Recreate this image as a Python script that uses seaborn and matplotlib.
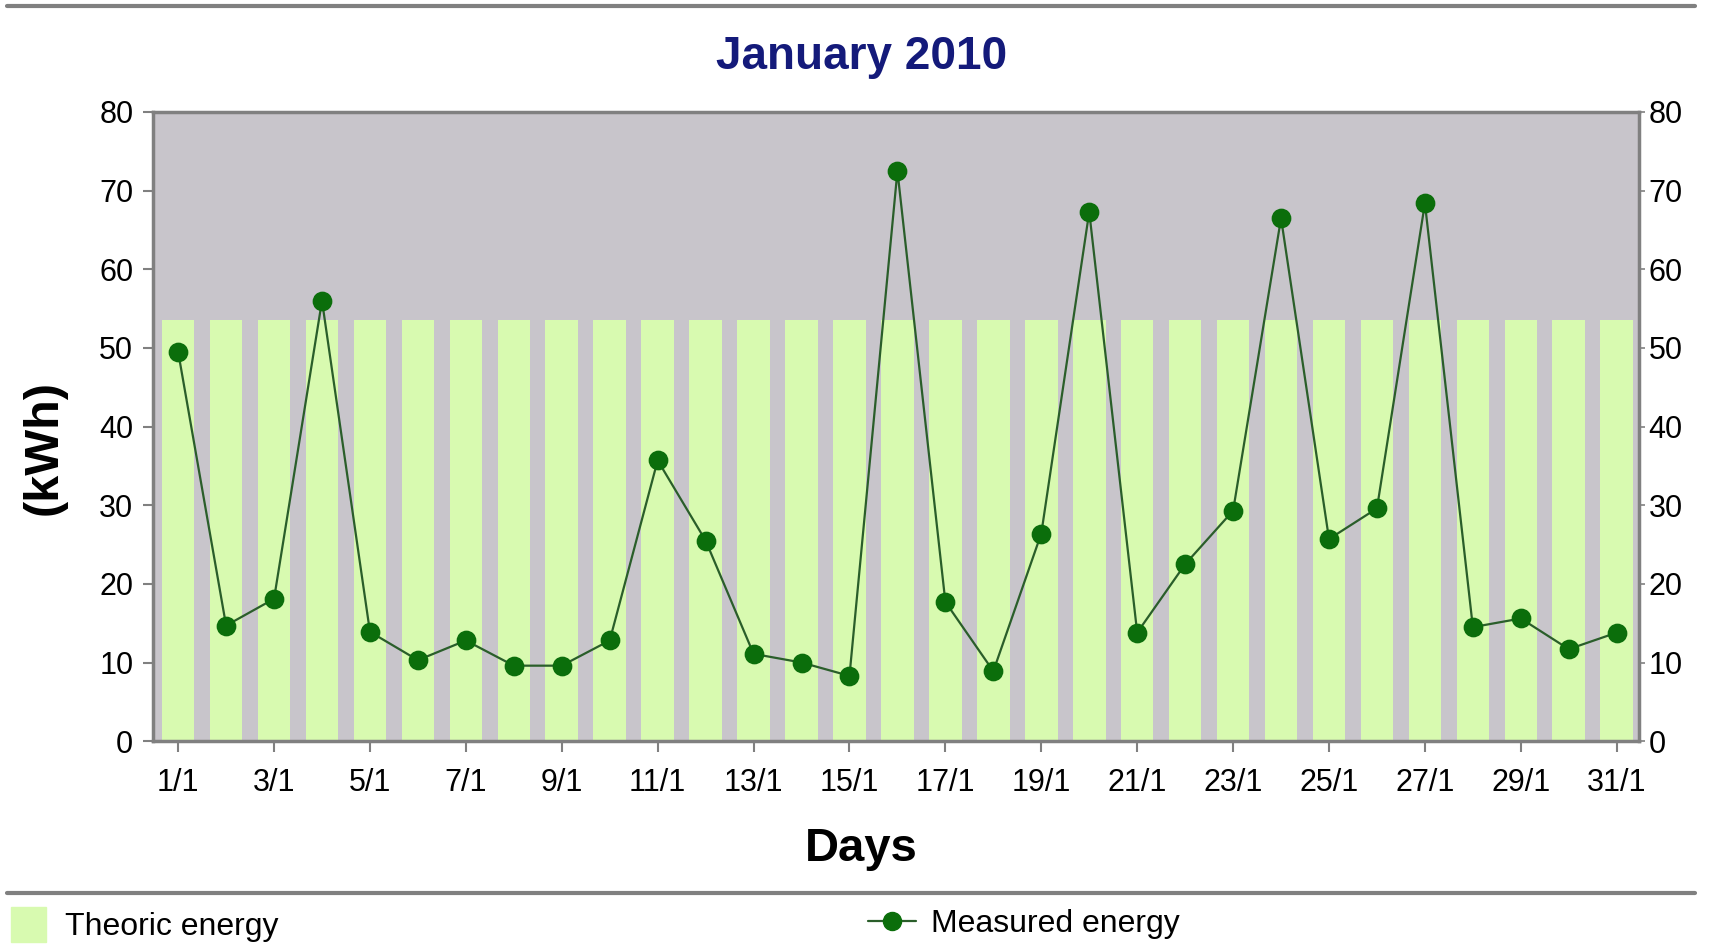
import matplotlib
matplotlib.use("Agg")
import matplotlib.pyplot as plt
import seaborn as sns
import pandas as pd
from matplotlib.lines import Line2D
from matplotlib.patches import Patch

days = [f"{d}/1" for d in range(1, 32)]
theoric = [53.5] * 31
measured = [49.5, 14.7, 18.1, 56.0, 13.9, 10.3, 12.8, 9.6, 9.6, 12.8,
            35.7, 25.5, 11.1, 10.0, 8.3, 72.5, 17.7, 8.9, 26.4, 67.3,
            13.8, 22.5, 29.3, 66.5, 25.7, 29.6, 68.4, 14.5, 15.6, 11.7, 13.8]
yticks = [0, 10, 20, 30, 40, 50, 60, 70, 80]

df = pd.DataFrame({"day": days, "theoric": theoric, "measured": measured})

sns.set_theme(style="white")
plt.rcParams["font.family"] = ["Liberation Sans", "DejaVu Sans"]
plt.rcParams["text.color"] = "black"

BG = "#c8c5cb"
BAR = "#d8fab0"
MK = "#0b6e0b"
LN = "#2a5e2a"
SP = "#808080"

fig = plt.figure(figsize=(17.16, 9.49), dpi=100)
ax = fig.add_axes([0.089, 0.219, 0.866, 0.663])
ax.set_facecolor(BG)

sns.barplot(data=df, x="day", y="theoric", color=BAR, width=0.68,
            saturation=1, linewidth=0, edgecolor=BAR, ax=ax, zorder=2)
sns.pointplot(data=df, x="day", y="measured", color=MK, markers="o",
              linestyles="-", markersize=13, linewidth=1.6, ax=ax, zorder=4)
for l in ax.lines:
    l.set_color(LN)
    l.set_markerfacecolor(MK)
    l.set_markeredgecolor(MK)

ax.set_xlim(-0.53, 30.46)
ax.set_ylim(0, 80)
ax.set_yticks(yticks)
ax.set_yticklabels([str(v) for v in yticks], fontsize=22)
ax.set_xticks(range(0, 31, 2))
ax.set_xticklabels(days[::2], fontsize=22)

for s in ax.spines.values():
    s.set_color(SP)
    s.set_linewidth(2.5)

ax.tick_params(axis="y", which="both", left=True, length=7, width=1.5,
               color=SP, pad=7, labelcolor="black")
ax.tick_params(axis="x", bottom=True, length=8, width=1.5, color=SP,
               pad=11, labelcolor="black")

ax2 = ax.twinx()
ax2.set_ylim(0, 80)
ax2.set_yticks(yticks)
ax2.set_yticklabels([str(v) for v in yticks], fontsize=22)
ax2.tick_params(axis="y", right=True, length=4, width=1.2, color=SP,
                pad=3, labelcolor="black")
for s in ax2.spines.values():
    s.set_visible(False)

ax.set_xlabel("Days", fontsize=34, fontweight="bold", color="black")
ax.xaxis.set_label_coords(0.477, -0.136)
ax.set_ylabel("(kWh)", fontsize=35, fontweight="bold", color="black")
ax.yaxis.set_label_coords(-0.058, 0.466)

fig.text(0.502, 0.940, "January 2010", ha="center", va="center",
         fontsize=33, fontweight="bold", color="#141a7a")

# frame lines
fig.add_artist(Line2D([0.004, 0.988], [0.9935, 0.9935], color=SP, lw=3,
                      transform=fig.transFigure))
fig.add_artist(Line2D([0.004, 0.988], [0.059, 0.059], color=SP, lw=3,
                      transform=fig.transFigure))

h1 = Patch(facecolor=BAR, edgecolor=BAR)
h2 = Line2D([], [], color=LN, marker="o", markersize=13,
            markerfacecolor=MK, markeredgecolor=MK, lw=1.6)
leg1 = fig.legend(handles=[h1], labels=["Theoric energy"], loc="center left",
                  bbox_to_anchor=(0.0064, 0.026), frameon=False, fontsize=23,
                  borderpad=0, borderaxespad=0, labelcolor="black",
                  handlelength=1.1, handleheight=1.3, handletextpad=0.6)
leg2 = fig.legend(handles=[h2], labels=["Measured energy"], loc="center left",
                  bbox_to_anchor=(0.506, 0.026), frameon=False, fontsize=23,
                  borderpad=0, borderaxespad=0, labelcolor="black",
                  handlelength=1.5, handletextpad=0.45)

fig.savefig("out.png", dpi=100)
